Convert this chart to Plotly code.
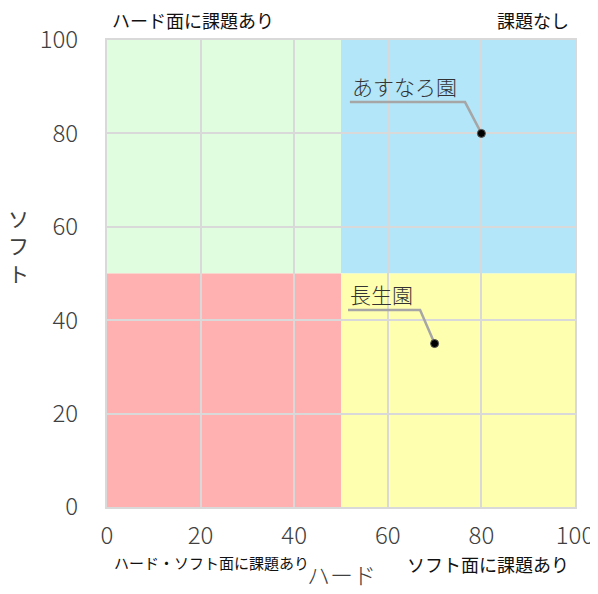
import plotly.graph_objects as go

# ---- data ----
names = ["あすなろ園", "長生園"]
hard = [80, 70]
soft = [80, 35]
x_ticks = [0, 20, 40, 60, 80, 100]
y_ticks = [0, 20, 40, 60, 80, 100]
quadrant_labels = ["ハード面に課題あり", "課題なし", "ハード・ソフト面に課題あり", "ソフト面に課題あり"]
x_title = "ハード"
y_title = "ソフト"

FONT = "Noto Sans CJK JP"
fig = go.Figure()

# quadrant backgrounds
quads = [
    (0, 50, 50, 100, "#e1fde0"),
    (50, 100, 50, 100, "#b3e6f8"),
    (0, 50, 0, 50, "#ffb0b0"),
    (50, 100, 0, 50, "#ffffb0"),
]
for x0, x1, y0, y1, c in quads:
    fig.add_shape(type="rect", x0=x0, x1=x1, y0=y0, y1=y1, xref="x", yref="y",
                  fillcolor=c, line_width=0, layer="below")

# leader lines (offsets relative to the point)
elbow = [(-3.5, 6.7), (-3.1, 7.2)]
end_x = [51.9, 51.5]
for i in range(len(names)):
    ex = hard[i] + elbow[i][0]
    ey = soft[i] + elbow[i][1]
    fig.add_trace(go.Scatter(x=[hard[i], ex, end_x[i]], y=[soft[i], ey, ey], mode="lines",
                             line=dict(color="#a6a6a6", width=2.5), hoverinfo="skip",
                             showlegend=False))
    fig.add_annotation(x=end_x[i], y=ey, text=names[i], showarrow=False, xanchor="left",
                       yanchor="bottom", xshift=0, yshift=-1,
                       font=dict(family=FONT, size=21, color="#333333", weight=300))

fig.add_trace(go.Scatter(x=hard, y=soft, mode="markers",
                         marker=dict(color="black", size=8, line=dict(color="#555", width=1)),
                         showlegend=False))

axis_common = dict(range=[0, 100], showgrid=True, gridcolor="#d9d9d9", gridwidth=2,
                   zeroline=False, showline=True, linecolor="#d9d9d9", linewidth=2, mirror=True,
                   automargin=False,
                   tickfont=dict(family=FONT, size=24, color="#404040", weight=300), fixedrange=True)
fig.update_xaxes(tickvals=x_ticks, ticklabelstandoff=6, **axis_common)
fig.update_yaxes(tickvals=y_ticks, ticklabelstandoff=22, **axis_common)

fig.add_annotation(xref="paper", yref="paper", x=0.5, y=0, yshift=-67, text=x_title,
                   showarrow=False, yanchor="middle",
                   font=dict(family=FONT, size=23, color="#404040", weight=300))
fig.add_annotation(xref="paper", yref="paper", x=0, y=0.56, xshift=-89, text="<br>".join(y_title),
                   showarrow=False, xanchor="center", yanchor="middle",
                   font=dict(family=FONT, size=21, color="#404040"))

qfont = dict(family=FONT, size=18, color="#111111")
qfont_small = dict(family=FONT, size=15, color="#111111")
fig.add_annotation(xref="paper", yref="paper", x=0, y=1, xshift=3, yshift=5, text=quadrant_labels[0],
                   showarrow=False, xanchor="left", yanchor="bottom", font=qfont)
fig.add_annotation(xref="paper", yref="paper", x=1, y=1, xshift=-4, yshift=5, text=quadrant_labels[1],
                   showarrow=False, xanchor="right", yanchor="bottom", font=qfont)
fig.add_annotation(xref="paper", yref="paper", x=0, y=0, xshift=5, yshift=-43, text=quadrant_labels[2],
                   showarrow=False, xanchor="left", yanchor="top", font=qfont_small)
fig.add_annotation(xref="paper", yref="paper", x=1, y=0, xshift=-4, yshift=-42, text=quadrant_labels[3],
                   showarrow=False, xanchor="right", yanchor="top", font=qfont)

# the page body adds an 8px offset, so the figure is sized to fit the window
fig.update_layout(width=590, height=586, margin=dict(l=99, r=23, t=32, b=87),
                  paper_bgcolor="white", plot_bgcolor="white", showlegend=False,
                  font=dict(family=FONT))
fig.write_html("out.html")
